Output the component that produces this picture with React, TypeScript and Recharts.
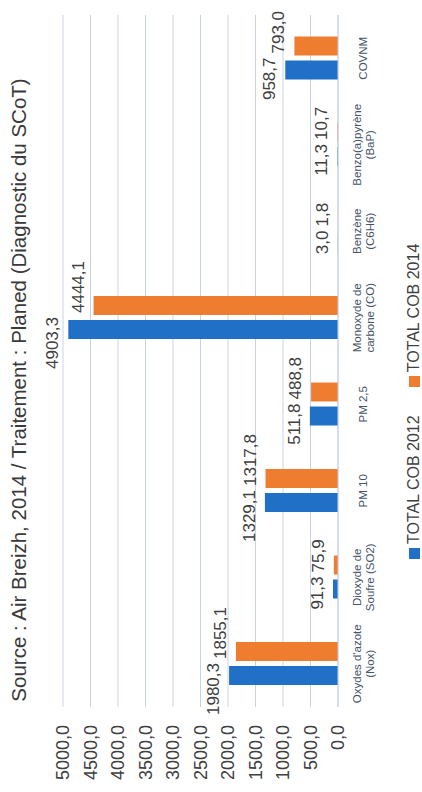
import { BarChart, Bar, XAxis, YAxis, CartesianGrid, LabelList } from 'recharts';

const categories = [
  "Oxydes d'azote\n(Nox)",
  'Dioxyde de\nSoufre (SO2)',
  'PM 10',
  'PM 2,5',
  'Monoxyde de\ncarbone (CO)',
  'Benzène\n(C6H6)',
  'Benzo(a)pyrène\n(BaP)',
  'COVNM',
];
const cob2012 = [1980.3, 91.3, 1329.1, 511.8, 4903.3, 3.0, 11.3, 958.7];
const cob2014 = [1855.1, 75.9, 1317.8, 488.8, 4444.1, 1.8, 10.7, 793.0];
const valueTicks = [0, 500, 1000, 1500, 2000, 2500, 3000, 3500, 4000, 4500, 5000];
const seriesNames = ['TOTAL COB 2012', 'TOTAL COB 2014'];
const title = 'Source : Air Breizh, 2014 / Traitement : Planed (Diagnostic du SCoT)';

const BLUE = '#2170c7';
const ORANGE = '#ee7d2f';
const FONT = '"Liberation Sans", Arial, sans-serif';

const data = categories.map((name, i) => ({ name, a: cob2012[i], b: cob2014[i] }));

const fmt = (v: number) => Number(v).toFixed(1).replace('.', ',');

function CategoryTick({ x, y, payload }: any) {
  const lines = String(payload.value).split('\n');
  const first = lines.length === 1 ? 29 : 22.5;
  return (
    <text textAnchor="middle" fontSize={11.5} fill="#44546a" fontFamily={FONT}>
      {lines.map((l, i) => (
        <tspan key={i} x={x} y={y + first + i * 13}>
          {l}
        </tspan>
      ))}
    </text>
  );
}

// blue labels end at the bar's right edge, orange ones start at the bar's left edge
function LabelLeft(props: any) {
  const x = Number(props.x), y = Number(props.y), w = Number(props.width);
  return (
    <text x={x + w + 3} y={y - 10} textAnchor="end" fontSize={17} fill="#404040" fontFamily={FONT}>
      {fmt(props.value)}
    </text>
  );
}

function LabelRight(props: any) {
  const x = Number(props.x), y = Number(props.y);
  return (
    <text x={x + 2} y={y - 10} textAnchor="start" fontSize={17} fill="#404040" fontFamily={FONT}>
      {fmt(props.value)}
    </text>
  );
}

export default function App() {
  return (
    <div style={{ position: 'fixed', left: 0, top: 0, width: 422, height: 792, overflow: 'hidden', background: '#fff' }}>
      <div
        style={{
          position: 'absolute',
          left: 0,
          top: 0,
          width: 792,
          height: 422,
          transformOrigin: '0 0',
          transform: 'translate(0px, 792px) rotate(-90deg)',
          fontFamily: FONT,
        }}
      >
        <BarChart
          width={792}
          height={422}
          data={data}
          margin={{ top: 63, right: 15, bottom: 44, left: 0 }}
          barGap={5}
        >
          <CartesianGrid vertical={false} stroke="#c8d2e6" />
          <XAxis
            dataKey="name"
            interval={0}
            height={40}
            tickSize={0}
            tickMargin={0}
            axisLine={{ stroke: '#c8d2e6' }}
            tickLine={false}
            tick={<CategoryTick />}
          />
          <YAxis
            type="number"
            domain={[0, 5000]}
            ticks={valueTicks}
            width={85}
            tickSize={0}
            tickMargin={18}
            axisLine={false}
            tickLine={false}
            tickFormatter={fmt}
            tick={{ fontSize: 18, fill: '#404040', fontFamily: FONT }}
          />
          <Bar dataKey="a" name={seriesNames[0]} fill={BLUE} barSize={19} isAnimationActive={false}>
            <LabelList dataKey="a" content={<LabelLeft />} />
          </Bar>
          <Bar dataKey="b" name={seriesNames[1]} fill={ORANGE} barSize={19} isAnimationActive={false}>
            <LabelList dataKey="b" content={<LabelRight />} />
          </Bar>
        </BarChart>

        <div
          style={{
            position: 'absolute',
            top: 8,
            left: 6,
            width: 792,
            textAlign: 'center',
            fontSize: 20.5,
            lineHeight: '22px',
            color: '#3a3a3a',
            whiteSpace: 'nowrap',
          }}
        >
          {title}
        </div>

        <div
          style={{
            position: 'absolute',
            top: 405,
            left: 233,
            display: 'flex',
            alignItems: 'center',
            fontSize: 16,
            lineHeight: '18px',
            color: '#404040',
            whiteSpace: 'nowrap',
          }}
        >
          {seriesNames.map((n, i) => (
            <div key={n} style={{ display: 'flex', alignItems: 'center', marginLeft: i ? 28 : 0 }}>
              <span style={{ display: 'inline-block', width: 11, height: 11, background: i ? ORANGE : BLUE, marginRight: 4 }} />
              <span>{n}</span>
            </div>
          ))}
        </div>
      </div>
    </div>
  );
}
